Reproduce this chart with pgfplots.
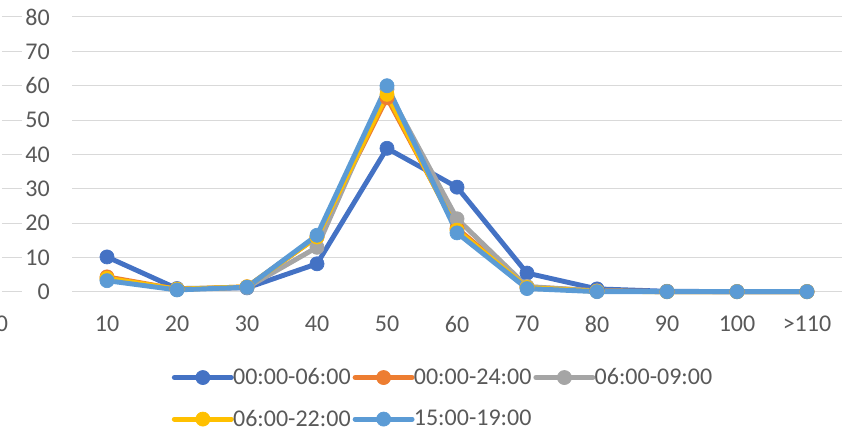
\documentclass[border=0pt]{standalone}
\usepackage{pgfplots}
\pgfplotsset{compat=1.18}
\usepackage{fontspec}
\setmainfont{Carlito}

\definecolor{sdarkblue}{HTML}{4472C4}
\definecolor{sorange}{HTML}{ED7D31}
\definecolor{sgray}{HTML}{A5A5A5}
\definecolor{syellow}{HTML}{FFC000}
\definecolor{slightblue}{HTML}{5B9BD5}
\definecolor{txtgray}{HTML}{595959}
\definecolor{gridgray}{HTML}{D9D9D9}

% layer set with a "gap" layer between the grid and the tick labels
\pgfplotsset{
    layers/gapset/.define layer set={axis background,axis grid,gap,axis ticks,axis lines,axis tick labels,pre main,main,axis descriptions,axis foreground}{
        grid style={/pgfplots/on layer=axis grid},
        tick style={/pgfplots/on layer=axis ticks},
        axis line style={/pgfplots/on layer=axis lines},
        label style={/pgfplots/on layer=axis descriptions},
        legend style={/pgfplots/on layer=axis descriptions},
        title style={/pgfplots/on layer=axis descriptions},
        ticklabel style={/pgfplots/on layer=axis tick labels},
        axis background@ style={/pgfplots/on layer=axis background},
    },
}

\begin{document}
\begin{tikzpicture}[font=\fontsize{18}{21.6}\selectfont]
\begin{axis}[
    set layers=gapset,
    at={(0,0)}, anchor=south west,
    scale only axis,
    width=630pt, height=206.25pt,
    xmin=-0.5, xmax=11.5,
    ymin=0, ymax=80,
    clip=false,
    axis line style={draw=none},
    major tick length=0pt,
    ytick={0,10,...,80},
    xtick={-0.5,1,2,3,4,5,6,7,8,9,10,11},
    xticklabels={0,10,20,30,40,50,60,70,80,90,100,>110},
    ymajorgrids,
    major grid style={color=gridgray, line width=0.75pt},
    /pgf/number format/assume math mode=true,
    ticklabel style={text=txtgray},
    yticklabel style={inner sep=0pt, anchor=east, xshift=36pt},
    xticklabel style={inner sep=0pt, anchor=north, yshift=-18pt},
    every axis plot/.append style={line width=3.7pt, line cap=round, line join=round,
        mark=*, mark size=5.3pt, mark options={line width=0.5pt}},
    legend columns=3,
    legend image code/.code={\draw[#1, mark repeat=2, mark phase=2]
        plot coordinates {(0pt,0pt) (21.4pt,0pt) (42.75pt,0pt)};},
    legend style={draw=none, fill=none, inner sep=0pt,
        at={(0.2019,-0.277)}, anchor=north west,
        nodes={inner sep=0pt, anchor=west, text=txtgray},
        row sep=17.5pt,
        /tikz/every odd column/.append style={column sep=-0.5pt},
        /tikz/every even column/.append style={column sep=1.5pt}},
]
\begin{pgfonlayer}{gap}
\fill[white] (axis cs:-0.214,-2) rectangle (axis cs:0.5,82);
\end{pgfonlayer}

\addplot[color=sdarkblue] coordinates {
    (1,10.2) (2,1.0) (3,1.2) (4,8.2) (5,41.8) (6,30.5) (7,5.5) (8,0.9) (9,0.2) (10,0.1) (11,0.1)
};
\addplot[color=sorange] coordinates {
    (1,4.4) (2,0.8) (3,1.5) (4,16.0) (5,56.5) (6,18.5) (7,1.5) (8,0.3) (9,0.1) (10,0.1) (11,0.1)
};
\addplot[color=sgray] coordinates {
    (1,3.6) (2,0.8) (3,1.3) (4,13.0) (5,59.0) (6,21.3) (7,1.6) (8,0.3) (9,0.1) (10,0.1) (11,0.1)
};
\addplot[color=syellow] coordinates {
    (1,4.0) (2,0.8) (3,1.5) (4,16.0) (5,57.5) (6,18.0) (7,1.3) (8,0.2) (9,0.1) (10,0.1) (11,0.1)
};
\addplot[color=slightblue] coordinates {
    (1,3.3) (2,0.6) (3,1.4) (4,16.5) (5,60.0) (6,17.2) (7,1.0) (8,0.1) (9,0.1) (10,0.1) (11,0.1)
};
\legend{00:00-06:00,00:00-24:00,06:00-09:00,06:00-22:00,15:00-19:00}
\end{axis}
\pgfresetboundingbox
\path[use as bounding box] (-1.5pt,-104.25pt) rectangle (638.25pt,219pt);
\end{tikzpicture}
\end{document}
